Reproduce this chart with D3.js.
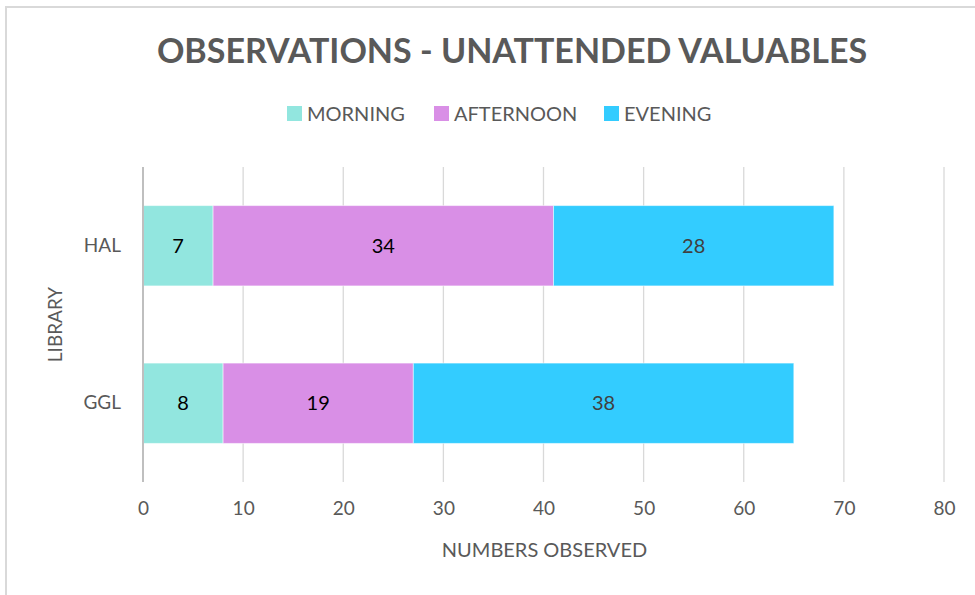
<!DOCTYPE html>
<html>
<head>
<meta charset="utf-8">
<script src="https://cdn.jsdelivr.net/npm/d3@7"></script>
<style>
  body { margin: 0; background: #fff; }
  text { font-family: Lato, "Open Sans", sans-serif; }
</style>
</head>
<body>
<div id="chart"></div>
<script>
const libraries = ["HAL", "GGL"];
const periods = ["MORNING", "AFTERNOON", "EVENING"];
const morning = [7, 8];
const afternoon = [34, 19];
const evening = [28, 38];
const xTicks = [0, 10, 20, 30, 40, 50, 60, 70, 80];

const colors = ["#92E6DF", "#D98FE6", "#33CCFF"];
const labelColors = ["#000", "#000", "#404040"];
const width = 975, height = 595;
const margin = { top: 167, right: 31, bottom: 113, left: 143 };

const svg = d3.select("#chart").append("svg")
  .attr("width", width).attr("height", height);

// chart area border (only top and left edges are in frame)
svg.append("path")
  .attr("d", `M6,${height} V7 H${width}`)
  .attr("fill", "none").attr("stroke", "#d9d9d9").attr("stroke-width", 2);

// title
svg.append("text")
  .attr("x", 512).attr("y", 63)
  .attr("text-anchor", "middle")
  .style("font-size", "34px").style("font-weight", "bold")
  .style("fill", "#595959")
  .text("OBSERVATIONS - UNATTENDED VALUABLES");

const rows = libraries.map((name, i) => ({
  name, values: [morning[i], afternoon[i], evening[i]]
}));
const stacked = d3.stack().keys([0, 1, 2]).value((d, k) => d.values[k])(rows);

const x = d3.scaleLinear().domain([0, 80])
  .range([margin.left, width - margin.right]);
const y = d3.scaleBand().domain(libraries)
  .range([margin.top, height - margin.bottom]).paddingInner(0.49).paddingOuter(0.245);

const g = svg.append("g");

// gridlines
g.selectAll(".grid").data(xTicks.slice(1)).enter().append("line")
  .attr("x1", d => x(d)).attr("x2", d => x(d))
  .attr("y1", margin.top).attr("y2", height - margin.bottom)
  .attr("stroke", "#d9d9d9").attr("stroke-width", 1.3);

// bars
const layers = g.selectAll(".layer").data(stacked).enter().append("g")
  .attr("fill", (d, i) => colors[i]);
layers.selectAll("rect").data(d => d).enter().append("rect")
  .attr("x", d => x(d[0]))
  .attr("width", d => x(d[1]) - x(d[0]))
  .attr("y", d => y(d.data.name))
  .attr("height", y.bandwidth())
  .attr("stroke", "rgba(255,255,255,0.5)").attr("stroke-width", 1);

// data labels
layers.selectAll("text").data(d => d.map(v => ({ v, key: d.key }))).enter().append("text")
  .attr("x", d => (x(d.v[0]) + x(d.v[1])) / 2)
  .attr("y", d => y(d.v.data.name) + y.bandwidth() / 2)
  .attr("dy", "0.36em")
  .attr("text-anchor", "middle")
  .style("font-size", "20px")
  .style("fill", d => labelColors[d.key])
  .text(d => d.v[1] - d.v[0]);

// y axis line
g.append("line")
  .attr("x1", x(0)).attr("x2", x(0))
  .attr("y1", margin.top).attr("y2", height - margin.bottom)
  .attr("stroke", "#bfbfbf").attr("stroke-width", 2);

// x axis tick labels
const xAxis = d3.axisBottom(x).tickValues(xTicks).tickSize(0).tickPadding(20);
const xg = svg.append("g")
  .attr("transform", `translate(0,${height - margin.bottom})`)
  .call(xAxis);
xg.select(".domain").remove();
xg.selectAll("text").style("font-size", "19px").style("fill", "#595959")
  .style("font-family", "Lato, sans-serif");

// y axis labels
const yAxis = d3.axisLeft(y).tickSize(0).tickPadding(22);
const yg = svg.append("g")
  .attr("transform", `translate(${margin.left},0)`)
  .call(yAxis);
yg.select(".domain").remove();
yg.selectAll("text").style("font-size", "19px").style("fill", "#595959")
  .style("font-family", "Lato, sans-serif");

// axis titles
svg.append("text")
  .attr("x", x(40) + 1).attr("y", 557)
  .attr("text-anchor", "middle")
  .style("font-size", "20px").style("fill", "#595959")
  .text("NUMBERS OBSERVED");

svg.append("text")
  .attr("transform", `translate(62,${(margin.top + height - margin.bottom) / 2}) rotate(-90)`)
  .attr("text-anchor", "middle")
  .style("font-size", "19px").style("fill", "#595959")
  .text("LIBRARY");

// legend
const legendX = [287, 434, 604];
const legend = svg.append("g").selectAll("g").data(periods).enter().append("g")
  .attr("transform", (d, i) => `translate(${legendX[i]},106)`);
legend.append("rect")
  .attr("width", 15).attr("height", 15)
  .attr("fill", (d, i) => colors[i]);
legend.append("text")
  .attr("x", 20).attr("y", 7.5).attr("dy", "0.36em")
  .style("font-size", "20px").style("fill", "#595959")
  .text(d => d);
</script>
</body>
</html>
